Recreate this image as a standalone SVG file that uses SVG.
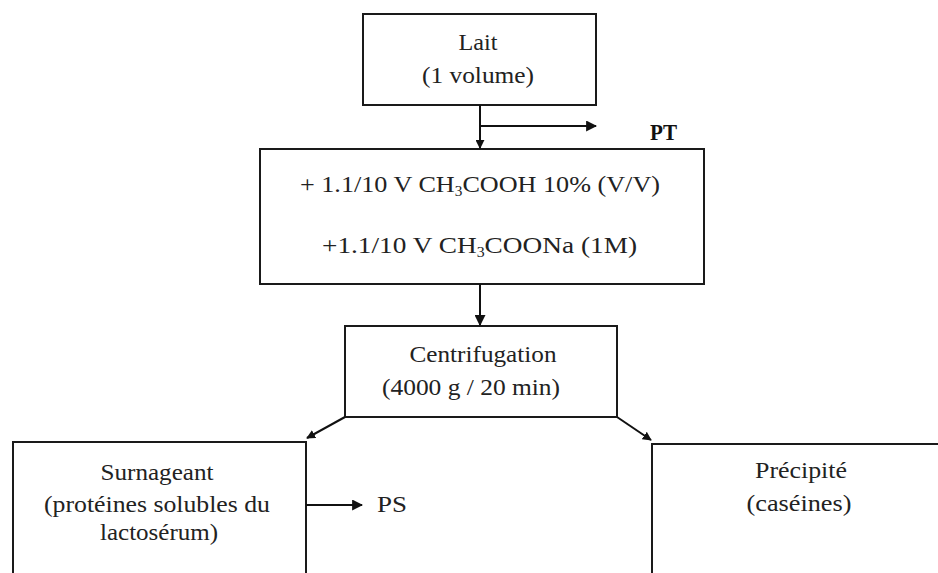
<svg xmlns="http://www.w3.org/2000/svg" width="938" height="573" viewBox="0 0 938 573">
  <defs>
    <marker id="arrow" viewBox="0 0 10 10" refX="9" refY="5" markerWidth="9" markerHeight="9" markerUnits="userSpaceOnUse" orient="auto">
      <path d="M0,0 L10,5 L0,10 z" fill="#111"/>
    </marker>
    <marker id="arrowBig" viewBox="0 0 10 10" refX="9" refY="5" markerWidth="11" markerHeight="11" markerUnits="userSpaceOnUse" orient="auto">
      <path d="M0,0 L10,5 L0,10 z" fill="#111"/>
    </marker>
  </defs>
  <style>
    .box { fill: #fff; stroke: #1a1a1a; stroke-width: 2; }
    .lbl { font-family: "Liberation Serif", "Times New Roman", serif; font-size: 24px; fill: #222; text-anchor: middle; }
    .bold { font-weight: bold; text-anchor: start; fill: #111; }
    .left { text-anchor: start; }
    .edge { fill: none; stroke: #111; stroke-width: 2; }
  </style>
  <rect width="938" height="573" fill="#fff"/>

  <g id="lait">
    <rect class="box" x="363" y="14" width="233" height="91"/>
    <text class="lbl" x="478" y="50" textLength="39" lengthAdjust="spacingAndGlyphs">Lait</text>
    <text class="lbl" x="478" y="83" textLength="112" lengthAdjust="spacingAndGlyphs">(1 volume)</text>
  </g>

  <g id="ajout">
    <rect class="box" x="260" y="149" width="444" height="135"/>
    <text class="lbl left" x="300" y="192" textLength="360" lengthAdjust="spacingAndGlyphs">+ 1.1/10 V CH<tspan font-size="14" dy="4">3</tspan><tspan dy="-4">COOH  10% (V/V)</tspan></text>
    <text class="lbl left" x="322" y="253" textLength="315" lengthAdjust="spacingAndGlyphs">+1.1/10 V CH<tspan font-size="14" dy="4">3</tspan><tspan dy="-4">COONa   (1M)</tspan></text>
  </g>

  <g id="centrifugation">
    <rect class="box" x="345" y="326" width="272" height="91"/>
    <text class="lbl" x="483" y="362" textLength="147" lengthAdjust="spacingAndGlyphs">Centrifugation</text>
    <text class="lbl" x="471" y="395" textLength="178" lengthAdjust="spacingAndGlyphs">(4000 g / 20 min)</text>
  </g>

  <g id="surnageant">
    <rect class="box" x="13" y="442" width="293" height="150"/>
    <text class="lbl" x="157" y="480" textLength="113" lengthAdjust="spacingAndGlyphs">Surnageant</text>
    <text class="lbl" x="157" y="512" textLength="226" lengthAdjust="spacingAndGlyphs">(protéines solubles du</text>
    <text class="lbl" x="159" y="540" textLength="118" lengthAdjust="spacingAndGlyphs">lactosérum)</text>
  </g>

  <g id="precipite">
    <rect class="box" x="652" y="444" width="300" height="150"/>
    <text class="lbl" x="801" y="478" textLength="92" lengthAdjust="spacingAndGlyphs">Précipité</text>
    <text class="lbl" x="799" y="511" textLength="105" lengthAdjust="spacingAndGlyphs">(caséines)</text>
  </g>

  <g id="pt">
    <text class="lbl bold" x="650" y="140" font-size="21" textLength="27" lengthAdjust="spacingAndGlyphs">PT</text>
  </g>

  <g id="ps">
    <text class="lbl left" x="377" y="512" font-size="21" textLength="30" lengthAdjust="spacingAndGlyphs">PS</text>
  </g>

  <g id="connectors">
    <line class="edge" x1="480" y1="105" x2="480" y2="148" marker-end="url(#arrow)"/>
    <line class="edge" x1="480" y1="126" x2="596" y2="126" marker-end="url(#arrowBig)"/>
    <line class="edge" x1="480" y1="284" x2="480" y2="325" marker-end="url(#arrowBig)"/>
    <line class="edge" x1="345" y1="417" x2="307" y2="438" marker-end="url(#arrow)"/>
    <line class="edge" x1="617" y1="417" x2="651" y2="440" marker-end="url(#arrow)"/>
    <line class="edge" x1="306" y1="505" x2="362" y2="505" marker-end="url(#arrowBig)"/>
  </g>
</svg>
